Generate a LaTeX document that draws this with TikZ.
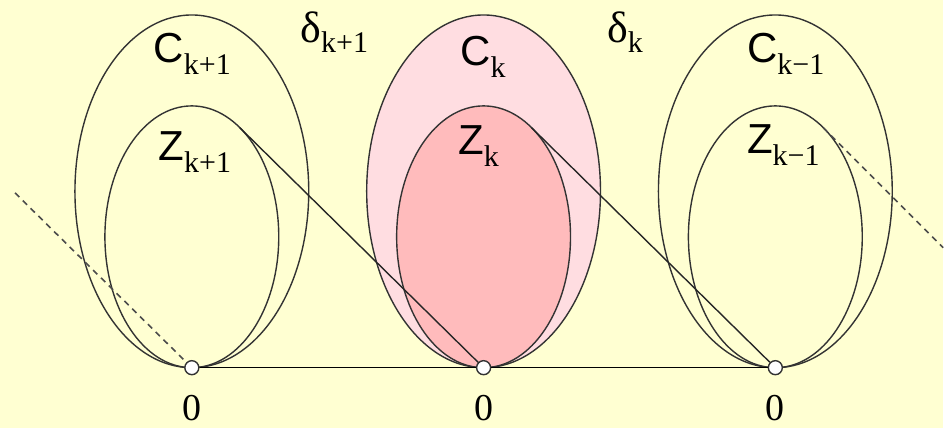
\documentclass[tikz,border=0pt]{standalone}
\usepackage{fontspec}
\setmainfont{Liberation Serif}
\setsansfont{Liberation Sans}
\usetikzlibrary{calc}

\definecolor{bgyellow}{RGB}{255,255,210}
\definecolor{cpink}{RGB}{255,221,225}
\definecolor{zpink}{RGB}{255,187,188}

\newcommand{\setlbl}[2]{{\fontsize{21}{21}\selectfont\sffamily #1}\raisebox{-6pt}{\fontsize{15}{15}\selectfont #2}}
\newcommand{\gaplbl}[1]{{\fontsize{22}{22}\selectfont δ}\raisebox{-5pt}{\fontsize{15}{15}\selectfont #1}}

\begin{document}
\begin{tikzpicture}[x=0.5pt,y=0.5pt,line width=0.7pt,
    pt/.style={circle,draw=black!80,fill=white,inner sep=0pt,minimum size=7pt},
    lbl/.style={anchor=base west,inner sep=0pt},
    zero/.style={anchor=base,inner sep=0pt,font=\fontsize{19}{19}\selectfont},
    dashline/.style={black!70,line width=0.8pt,dash pattern=on 3pt off 2.5pt}]
    % Fond
    \fill[bgyellow] (0,0) rectangle (944,428);

    % Abscisses des points
    \def\xa{192}
    \def\xb{484}
    \def\xc{776}
    \def\yo{60}

    % Ensembles C et Z
    \fill[cpink] (\xb,236.5) ellipse [x radius=117,y radius=176.5];
    \fill[zpink] (\xb,191) ellipse [x radius=87,y radius=131];
    \foreach \x in {\xa,\xb,\xc}{
        \draw[black!80] (\x,236.5) ellipse [x radius=117,y radius=176.5];
        \draw[black!80] (\x,191) ellipse [x radius=87,y radius=131];
    }

    % Points de contact
    \coordinate (t1) at (\xa+48.1,300.1);
    \coordinate (t2) at (\xb+48.1,300.1);
    \coordinate (t3) at (\xc+48.1,300.1);
    \coordinate (e0) at (15,235);
    \coordinate (e3) at (944,180);

    % Points
    \node[pt] (p1) at (\xa,\yo) {};
    \node[pt] (p2) at (\xb,\yo) {};
    \node[pt] (p3) at (\xc,\yo) {};

    % Segments
    \draw (p1) -- (p2) -- (p3);
    \draw[black!85] (t1) -- (p2);
    \draw[black!85] (t2) -- (p3);
    \draw[dashline] (e0) -- (p1);
    \draw[dashline] (t3) -- (e3);

    % Etiquettes
    \node[lbl] (c1) at (153,365) {\setlbl{C}{k+1}};
    \node[lbl] (c2) at (460,362) {\setlbl{C}{k}};
    \node[lbl] (c3) at (747,365) {\setlbl{C}{k−1}};
    \node[lbl] (z1) at (158,267) {\setlbl{Z}{k+1}};
    \node[lbl] (z2) at (458,273) {\setlbl{Z}{k}};
    \node[lbl] (z3) at (747,274) {\setlbl{Z}{k−1}};
    \node[lbl] (d1) at (300,385) {\gaplbl{k+1}};
    \node[lbl] (d2) at (607,385) {\gaplbl{k}};

    \node[zero] (o1) at (\xa,7) {0};
    \node[zero] (o2) at (\xb,7) {0};
    \node[zero] (o3) at (\xc,7) {0};
\end{tikzpicture}
\end{document}
